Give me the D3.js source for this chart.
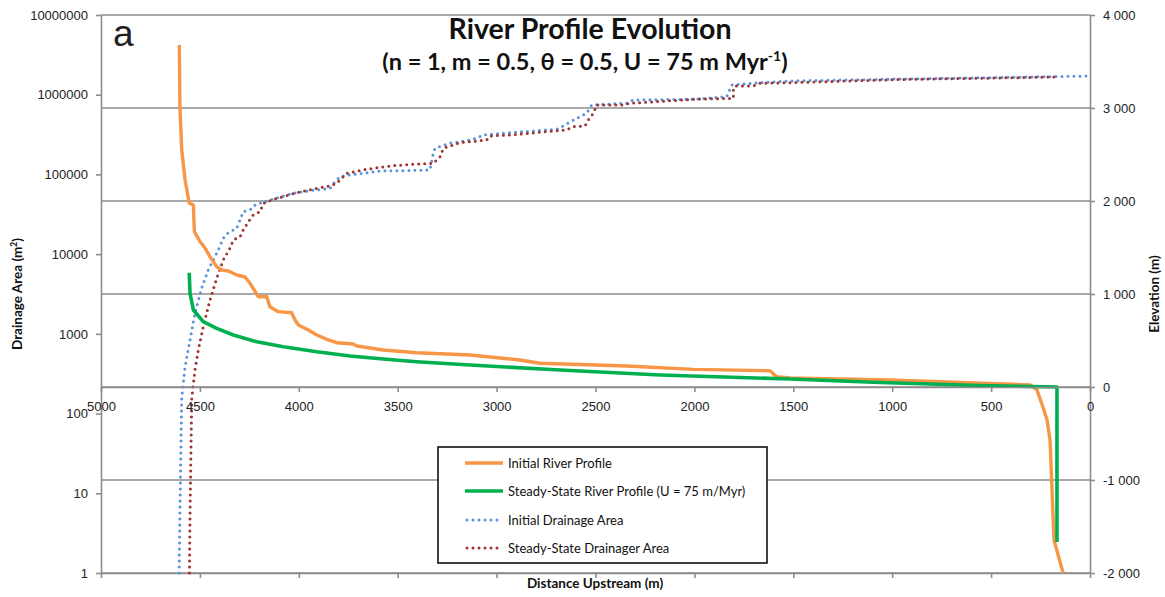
<!DOCTYPE html>
<html>
<head>
<meta charset="utf-8">
<script src="https://cdn.jsdelivr.net/npm/d3@7"></script>
<style>
  html, body { margin: 0; padding: 0; background: #fff; }
  svg { display: block; }
</style>
</head>
<body>
<div id="chart"></div>
<script>
// ---- data -------------------------------------------------------------
// Distance upstream (m) and elevation (m) of the river profiles
const orangeDist = [4604,4601,4592,4575,4554,4533,4528,4499,4474,4449,4415,4390,4356,4314,4272,4247,4205,4162,4146,4104,4036,4019,4002,3952,3909,3859,3808,3724,3707,3573,3404,3134,2882,2781,2342,2006,1618,1584,1517,1011,303,268,238,217,202,182,136];
const orangeElev = [3678,3014,2548,2226,1979,1957,1670,1562,1495,1401,1294,1258,1247,1204,1183,1118,971,971,863,810,799,720,667,613,559,513,476,462,441,398,369,344,290,255,226,190,175,111,97,75,22,-32,-215,-355,-570,-1645,-2000];

const greenDist = [4554,4550,4533,4483,4415,4331,4213,4078,3909,3741,3573,3404,3134,2679,2174,1517,1062,556,167,167];
const greenElev = [1229,1011,828,702,631,559,487,433,380,333,301,272,237,183,129,86,48,16,0,-1667];

// Distance upstream (m) and drainage area (m²)
const blueDist = [4605,4600,4592,4575,4550,4525,4491,4458,4432,4407,4382,4356,4314,4297,4281,4247,4221,4196,4146,4078,4028,3943,3842,3817,3792,3741,3657,3573,3472,3337,3320,3311,3236,3134,3101,3067,2932,2696,2646,2595,2545,2519,2342,2309,2006,1837,1811,1668,1517,961,455,0];
const blueArea = [1,8.2,157,387,838,1828,3760,6330,8450,11280,15810,18580,21090,26840,34120,35810,41400,43450,47780,53700,58050,62520,67000,81150,93780,98430,105200,111500,111500,113800,184200,213000,246000,270600,284000,312700,334300,368400,429700,505800,584800,743500,781000,859500,876700,944600,1325000,1416000,1487000,1575000,1644000,1718000];

const redDist = [4553,4549,4541,4525,4508,4483,4449,4415,4382,4348,4331,4297,4281,4255,4230,4196,4179,4129,4078,4011,3909,3842,3808,3775,3758,3657,3539,3404,3320,3286,3269,3185,3050,3033,2932,2646,2612,2553,2536,2511,2494,2359,2326,2006,1803,1803,1795,1702,1668,1517,961,455,162];
const redArea = [1,8.2,157,352,628,1231,2660,4980,8450,11850,15060,16560,20100,25540,30980,34120,43450,48780,52570,59040,67000,71620,77450,93780,103300,116100,127700,135300,138000,167100,213000,250200,270600,303600,312700,361500,397200,405600,482200,584800,743500,743500,781000,876700,901600,1146000,1288000,1288000,1391000,1416000,1553000,1622000,1671000];

// Axis ticks and labels
const areaTicks = [1,10,100,1000,10000,100000,1000000,10000000];
const areaTickLabels = ["1","10","100","1000","10000","100000","1000000","10000000"];
const elevTicks = [-2000,-1000,0,1000,2000,3000,4000];
const elevTickLabels = ["-2 000","-1 000","0","1 000","2 000","3 000","4 000"];
const distTicks = [5000,4500,4000,3500,3000,2500,2000,1500,1000,500,0];
const distTickLabels = ["5000","4500","4000","3500","3000","2500","2000","1500","1000","500","0"];

const seriesNames = ["Initial River Profile","Steady-State River Profile (U = 75 m/Myr)","Initial Drainage Area","Steady-State Drainager Area"];

// ---- layout -----------------------------------------------------------
const W = 1165, H = 597;
const plotL = 101, plotR = 1090, plotT = 15, plotB = 573;
const gridColor = "#8c8c8c";
const colors = { orange: "#F79646", green: "#00B050", blue: "#5B93DB", red: "#9E3330" };
const labelFont = "'Liberation Sans', Arial, sans-serif";
const titleFont = "Lato, 'Open Sans', sans-serif";

const svg = d3.select("#chart").append("svg")
  .attr("width", W).attr("height", H)
  .attr("viewBox", `0 0 ${W} ${H}`);
svg.append("rect").attr("width", W).attr("height", H).attr("fill", "#fff");

const x = d3.scaleLinear().domain([5000, 0]).range([plotL, plotR]);
const yA = d3.scaleLog().domain([1, 1e7]).range([plotB, plotT]);
const yE = d3.scaleLinear().domain([-2000, 4000]).range([plotB, plotT]);

// horizontal gridlines from the elevation axis
svg.append("g").selectAll("line").data(elevTicks).join("line")
  .attr("x1", plotL).attr("x2", plotR)
  .attr("y1", d => yE(d)).attr("y2", d => yE(d))
  .attr("stroke", gridColor).attr("stroke-width", 1.6);

function styleAxis(g, fontSize) {
  g.selectAll(".domain").attr("stroke", gridColor).attr("stroke-width", 1.6);
  g.selectAll(".tick line").attr("stroke", gridColor).attr("stroke-width", 1.6);
  g.selectAll(".tick text").attr("font-family", labelFont).attr("font-size", fontSize).attr("fill", "#222");
}

// left: drainage area (log)
const axL = svg.append("g").attr("transform", `translate(${plotL},0)`)
  .call(d3.axisLeft(yA).tickValues(areaTicks)
    .tickFormat((d, i) => areaTickLabels[i]).tickSize(5).tickSizeOuter(0).tickPadding(8));
styleAxis(axL, 13);

// right: elevation
const axR = svg.append("g").attr("transform", `translate(${plotR},0)`)
  .call(d3.axisRight(yE).tickValues(elevTicks)
    .tickFormat((d, i) => elevTickLabels[i]).tickSize(5).tickSizeOuter(0).tickPadding(8));
styleAxis(axR, 13);

// bottom frame axis (ticks only)
const axB = svg.append("g").attr("transform", `translate(0,${plotB})`)
  .call(d3.axisBottom(x).tickValues(distTicks).tickFormat("").tickSize(5).tickSizeOuter(0));
styleAxis(axB, 13);

// ---- series -----------------------------------------------------------
const lineE = d3.line().x(d => x(d[0])).y(d => yE(d[1]));
const lineA = d3.line().x(d => x(d[0])).y(d => yA(d[1]));
const zip = (a, b) => a.map((v, i) => [v, b[i]]);

const plot = svg.append("g");
plot.append("path").datum(zip(blueDist, blueArea)).attr("d", lineA)
  .attr("fill", "none").attr("stroke", colors.blue).attr("stroke-width", 3)
  .attr("stroke-linecap", "round").attr("stroke-dasharray", "0 6");
plot.append("path").datum(zip(redDist, redArea)).attr("d", lineA)
  .attr("fill", "none").attr("stroke", colors.red).attr("stroke-width", 3)
  .attr("stroke-linecap", "round").attr("stroke-dasharray", "0 6");
plot.append("path").datum(zip(orangeDist, orangeElev)).attr("d", lineE)
  .attr("fill", "none").attr("stroke", colors.orange).attr("stroke-width", 3.4)
  .attr("stroke-linejoin", "round");
plot.append("path").datum(zip(greenDist, greenElev)).attr("d", lineE)
  .attr("fill", "none").attr("stroke", colors.green).attr("stroke-width", 3.6)
  .attr("stroke-linejoin", "round");

// distance axis along zero elevation
const axX = svg.append("g").attr("transform", `translate(0,${yE(0)})`)
  .call(d3.axisBottom(x).tickValues(distTicks)
    .tickFormat((d, i) => distTickLabels[i]).tickSize(5).tickSizeOuter(0).tickPadding(10));
styleAxis(axX, 13);

// ---- titles -----------------------------------------------------------
const title = svg.append("text").attr("text-anchor", "middle")
  .attr("font-family", titleFont).attr("font-weight", 700).attr("fill", "#111");
title.append("tspan").attr("x", 590).attr("y", 39).attr("font-size", 28.5).text("River Profile Evolution");
const t2 = title.append("tspan").attr("x", 585).attr("y", 70).attr("font-size", 23.5);
t2.append("tspan").text("(n = 1, m = 0.5, θ = 0.5, U = 75 m Myr");
t2.append("tspan").attr("font-size", 14).attr("dy", -9).text("-1");
t2.append("tspan").attr("dy", 9).text(")");

svg.append("text").attr("x", 113).attr("y", 46)
  .attr("font-family", labelFont).attr("font-size", 37).attr("fill", "#222").text("a");

const yTitle = svg.append("text")
  .attr("transform", `translate(22,${(plotT + plotB) / 2}) rotate(-90)`)
  .attr("text-anchor", "middle").attr("font-family", titleFont)
  .attr("font-weight", 700).attr("font-size", 13.5).attr("fill", "#111");
yTitle.append("tspan").text("Drainage Area (m");
yTitle.append("tspan").attr("font-size", 8.5).attr("dy", -5).text("2");
yTitle.append("tspan").attr("dy", 5).text(")");

svg.append("text")
  .attr("transform", `translate(1159,${(plotT + plotB) / 2}) rotate(-90)`)
  .attr("text-anchor", "middle").attr("font-family", titleFont)
  .attr("font-weight", 700).attr("font-size", 13.5).attr("fill", "#111")
  .text("Elevation (m)");

svg.append("text").attr("x", 595).attr("y", 588)
  .attr("text-anchor", "middle").attr("font-family", titleFont)
  .attr("font-weight", 700).attr("font-size", 13.5).attr("fill", "#111")
  .text("Distance Upstream (m)");

// ---- legend -----------------------------------------------------------
const legend = svg.append("g");
legend.append("rect").attr("x", 438).attr("y", 447).attr("width", 329).attr("height", 116)
  .attr("fill", "#fff").attr("stroke", "#111").attr("stroke-width", 1.6);
const legendStyles = [
  { color: colors.orange, width: 3.4, dash: null },
  { color: colors.green, width: 3.6, dash: null },
  { color: colors.blue, width: 3, dash: "0 6" },
  { color: colors.red, width: 3, dash: "0 6" }
];
const rowY = [463, 491, 520, 548];
seriesNames.forEach((name, i) => {
  const s = legendStyles[i];
  const ln = legend.append("line")
    .attr("x1", s.dash ? 467 : 465).attr("x2", s.dash ? 502 : 503)
    .attr("y1", rowY[i]).attr("y2", rowY[i])
    .attr("stroke", s.color).attr("stroke-width", s.width);
  if (s.dash) ln.attr("stroke-dasharray", s.dash).attr("stroke-linecap", "round");
  legend.append("text").attr("x", 508).attr("y", rowY[i]).attr("dy", "0.35em")
    .attr("font-family", titleFont).attr("font-size", 13).attr("fill", "#111")
    .text(name);
});
</script>
</body>
</html>
